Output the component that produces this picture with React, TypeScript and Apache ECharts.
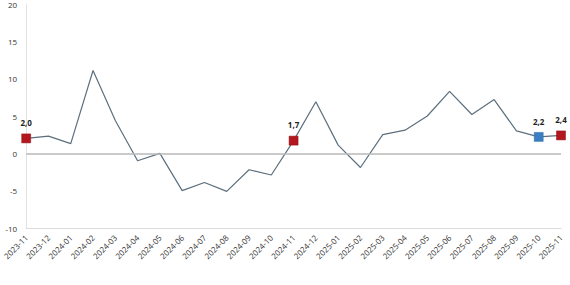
import React, { useEffect, useRef } from "react";
import * as echarts from "echarts";

const categories = [
  "2023-11", "2023-12", "2024-01", "2024-02", "2024-03", "2024-04", "2024-05",
  "2024-06", "2024-07", "2024-08", "2024-09", "2024-10", "2024-11", "2024-12",
  "2025-01", "2025-02", "2025-03", "2025-04", "2025-05", "2025-06", "2025-07",
  "2025-08", "2025-09", "2025-10", "2025-11",
];
const values = [
  2.0, 2.3, 1.3, 11.1, 4.4, -1.0, 0.0, -5.0, -3.9, -5.1, -2.2, -2.9, 1.7, 6.9,
  1.1, -1.9, 2.5, 3.1, 5.0, 8.3, 5.2, 7.2, 3.0, 2.2, 2.4,
];
const redMarks = ["2023-11", "2024-11", "2025-11"];
const blueMarks = ["2025-10"];
const yTicks = { min: -10, max: 20, interval: 5 };

const FONT = "'Open Sans', 'Noto Sans', sans-serif";

export default function App() {
  const ref = useRef<HTMLDivElement>(null);
  useEffect(() => {
    if (!ref.current) return;
    const chart = echarts.init(ref.current, undefined, { renderer: "svg" });
    const data = values.map((v, i) => {
      const c = categories[i];
      const isRed = redMarks.includes(c);
      const isBlue = blueMarks.includes(c);
      if (!isRed && !isBlue) return { value: v };
      return {
        value: v,
        symbol: "rect",
        symbolSize: 9,
        itemStyle: { color: isRed ? "#B3161F" : "#3A7FC1", borderColor: isRed ? "#8E1016" : "#2F6CA8", borderWidth: 0.5 },
        label: {
          show: true,
          position: "top",
          distance: 7,
          formatter: () => v.toFixed(1).replace(".", ","),
          fontSize: 8,
          fontWeight: "bold",
          color: "#222",
          fontFamily: FONT,
        },
      };
    });
    chart.setOption({
      animation: false,
      grid: { left: 24, right: 9, top: 3, bottom: 57, containLabel: false },
      xAxis: {
        type: "category",
        data: categories,
        boundaryGap: false,
        axisLine: { show: true, onZero: false, lineStyle: { color: "#dcdcdc", width: 1 } },
        axisTick: { show: false },
        axisLabel: {
          rotate: 45,
          fontSize: 8,
          color: "#333",
          margin: 8,
          interval: 0,
          fontFamily: FONT,
        },
        splitLine: { show: false },
      },
      yAxis: {
        type: "value",
        min: yTicks.min,
        max: yTicks.max,
        interval: yTicks.interval,
        axisLine: { show: true, lineStyle: { color: "#e2e2e2", width: 1 } },
        axisTick: { show: false },
        splitLine: { show: false },
        axisLabel: { fontSize: 8, color: "#333", margin: 9, fontFamily: FONT },
      },
      series: [
        {
          type: "line",
          data,
          symbol: "none",
          showSymbol: true,
          lineStyle: { color: "#5B6F7E", width: 1.2 },
          itemStyle: { color: "#5B6F7E" },
          markLine: {
            silent: true,
            symbol: "none",
            label: { show: false },
            lineStyle: { color: "#b8b8b8", width: 1.5, type: "solid" },
            data: [{ yAxis: 0 }],
          },
          z: 3,
        },
      ],
    });
    return () => chart.dispose();
  }, []);
  return <div ref={ref} style={{ width: 570, height: 285, position: "absolute", left: 0, top: 0 }} />;
}
